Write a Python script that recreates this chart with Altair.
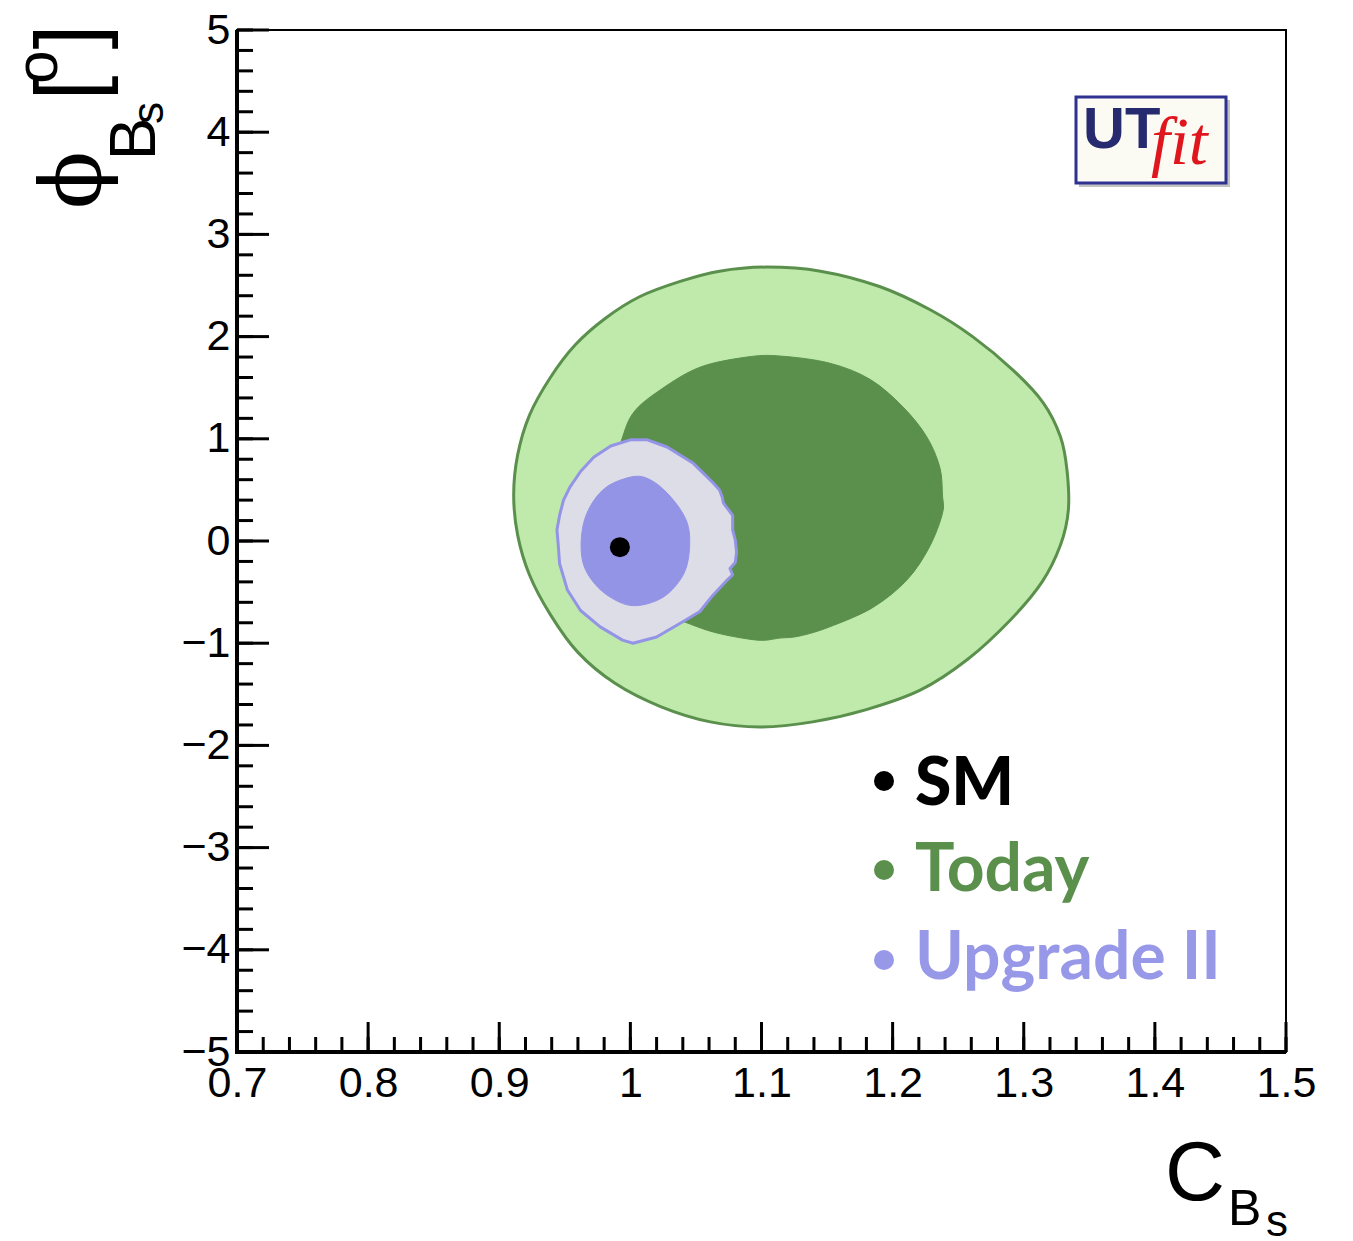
import altair as alt
import pandas as pd
import numpy as np

# ---- probability regions in the (C_Bs, phi_Bs [deg]) plane ----
# Today: 95% region
today95_c = [1.104, 1.145, 1.190, 1.229, 1.261, 1.292, 1.315, 1.328, 1.333, 1.334,
             1.328, 1.314, 1.290, 1.257, 1.221, 1.180, 1.139, 1.099, 1.061, 1.023,
             0.988, 0.960, 0.939, 0.923, 0.914, 0.911, 0.914, 0.923, 0.939, 0.958,
             0.981, 1.007, 1.038, 1.068]
today95_phi = [2.68, 2.64, 2.49, 2.26, 2.00, 1.67, 1.35, 1.02, 0.69, 0.30,
               -0.04, -0.40, -0.77, -1.16, -1.46, -1.65, -1.77, -1.82, -1.77, -1.62,
               -1.39, -1.09, -0.72, -0.33, 0.06, 0.45, 0.84, 1.23, 1.60, 1.92,
               2.18, 2.39, 2.54, 2.64]

# Today: 68% region
today68_c = [1.114, 1.152, 1.183, 1.208, 1.226, 1.236, 1.238, 1.238, 1.228, 1.211,
             1.185, 1.152, 1.129, 1.114, 1.097, 1.066, 1.043, 1.023, 1.001, 0.986,
             0.981, 0.983, 0.992, 1.002, 1.023, 1.053, 1.089]
today68_phi = [1.81, 1.74, 1.58, 1.31, 1.02, 0.72, 0.45, 0.27, -0.06, -0.38,
               -0.65, -0.84, -0.93, -0.95, -0.97, -0.90, -0.80, -0.69, -0.53, -0.23,
               0.16, 0.60, 0.94, 1.25, 1.48, 1.70, 1.80]

# Upgrade II: 95% region
upg95_c = [1.000, 1.013, 1.028, 1.048, 1.063, 1.068, 1.070, 1.071, 1.074, 1.078,
           1.078, 1.080, 1.081, 1.080, 1.076, 1.078, 1.074, 1.063, 1.053, 1.040,
           1.020, 1.002, 0.994, 0.977, 0.962, 0.952, 0.946, 0.945, 0.944, 0.946,
           0.949, 0.954, 0.962, 0.972, 0.985]
upg95_phi = [0.99, 0.99, 0.92, 0.76, 0.57, 0.50, 0.43, 0.37, 0.32, 0.25,
             0.11, 0.01, -0.11, -0.21, -0.27, -0.33, -0.38, -0.53, -0.69, -0.79,
             -0.94, -1.00, -0.97, -0.84, -0.68, -0.48, -0.22, -0.04, 0.11, 0.25,
             0.40, 0.53, 0.68, 0.82, 0.93]

# Upgrade II: 68% region
upg68_c = [1.002, 1.015, 1.028, 1.040, 1.045, 1.044, 1.038, 1.025, 1.007, 0.992,
           0.975, 0.964, 0.963, 0.969, 0.982]
upg68_phi = [0.63, 0.60, 0.47, 0.27, 0.08, -0.19, -0.38, -0.55, -0.63, -0.60,
             -0.45, -0.22, 0.08, 0.33, 0.53]

# Standard Model point
sm_c = [0.992]
sm_phi = [-0.06]

# axis ticks
x_major = [0.7, 0.8, 0.9, 1.0, 1.1, 1.2, 1.3, 1.4, 1.5]
y_major = [-5, -4, -3, -2, -1, 0, 1, 2, 3, 4, 5]
x_minor = [round(v, 2) for v in np.arange(0.70, 1.5001, 0.02)]
y_minor = [round(v, 1) for v in np.arange(-5.0, 5.001, 0.2)]

legend_labels = ["SM", "Today", "Upgrade II"]

# ---- layout ----
W, H = 1049, 1022          # plot area
LEFT, TOP = 237, 30        # plot origin on the page
PAGE_W, PAGE_H = 1353, 1241

LIGHT_GREEN = "#bfeaac"
DARK_GREEN = "#5a8f4c"
LIGHT_PURPLE = "#dddde8"
PURPLE = "#9494e6"
AXIS_FONT = "Liberation Sans"

xscale = alt.Scale(domain=[0.7, 1.5], nice=False, zero=False)
yscale = alt.Scale(domain=[-5, 5], nice=False, zero=False)
xaxis = alt.Axis(values=x_major, format="~g", title="", grid=False, ticks=False,
                 tickSize=0, domain=False, labelFontSize=43, labelFont=AXIS_FONT,
                 labelColor="black", labelPadding=10, labelOverlap=False,
                 labelFlush=False)
yaxis = alt.Axis(values=y_major, format="~g", title="", grid=False, ticks=False,
                 tickSize=0, domain=False, labelFontSize=43, labelFont=AXIS_FONT,
                 labelColor="black", labelPadding=7, labelOverlap=False,
                 labelFlush=False)
X = alt.X("c:Q", scale=xscale, axis=xaxis)
Y = alt.Y("phi:Q", scale=yscale, axis=yaxis)


def region(c, phi, fill, stroke, width, interp):
    df = pd.DataFrame({"c": c, "phi": phi, "i": range(len(c))})
    return alt.Chart(df).mark_line(
        fill=fill, stroke=stroke, strokeWidth=width, interpolate=interp,
        strokeJoin="round"
    ).encode(x=X, y=Y, order="i:Q")


def px(x, y):
    """page pixel position -> plot-relative value encodings"""
    return dict(x=alt.value(x - LEFT), y=alt.value(y - TOP))


one = pd.DataFrame({"k": [0]})

layers = [
    region(today95_c, today95_phi, LIGHT_GREEN, DARK_GREEN, 3, "cardinal-closed"),
    region(today68_c, today68_phi, DARK_GREEN, DARK_GREEN, 1, "cardinal-closed"),
    region(upg95_c, upg95_phi, LIGHT_PURPLE, PURPLE, 3, "linear-closed"),
    region(upg68_c, upg68_phi, PURPLE, PURPLE, 1, "cardinal-closed"),
    alt.Chart(pd.DataFrame({"c": sm_c, "phi": sm_phi})).mark_point(
        filled=True, shape="circle", size=400, color="black", opacity=1
    ).encode(x=X, y=Y),
]

# ticks pointing into the plot
layers += [
    alt.Chart(pd.DataFrame({"c": x_minor})).mark_rule(color="black", strokeWidth=3)
    .encode(x=X, y=alt.value(H), y2=alt.value(H - 15)),
    alt.Chart(pd.DataFrame({"c": x_major})).mark_rule(color="black", strokeWidth=3)
    .encode(x=X, y=alt.value(H), y2=alt.value(H - 30)),
    alt.Chart(pd.DataFrame({"phi": y_minor})).mark_rule(color="black", strokeWidth=3)
    .encode(y=Y, x=alt.value(0), x2=alt.value(16)),
    alt.Chart(pd.DataFrame({"phi": y_major})).mark_rule(color="black", strokeWidth=3)
    .encode(y=Y, x=alt.value(0), x2=alt.value(32)),
    # thick left and bottom axis lines
    alt.Chart(one).mark_rule(color="black", strokeWidth=4)
    .encode(x=alt.value(0), y=alt.value(0), y2=alt.value(H + 2)),
    alt.Chart(one).mark_rule(color="black", strokeWidth=4)
    .encode(y=alt.value(H), x=alt.value(-2), x2=alt.value(W)),
]

# legend
legend_colors = ["black", DARK_GREEN, "#9898e8"]
legend_weights = [900, "bold", "bold"]
legend_dot_y = [781, 870, 960]
legend_base_y = [805, 891, 979]
for lab, col, wt, dy, by in zip(legend_labels, legend_colors, legend_weights,
                                legend_dot_y, legend_base_y):
    layers.append(
        alt.Chart(one).mark_point(filled=True, shape="circle", size=400,
                                  color=col, opacity=1).encode(**px(884, dy)))
    layers.append(
        alt.Chart(one).mark_text(text=lab, font="Lato", fontSize=66, fontWeight=wt,
                                 color=col, align="left", baseline="alphabetic")
        .encode(**px(915, by)))

# UTfit logo
layers += [
    alt.Chart(one).mark_rect(fill="#9a9a9a", opacity=0.6)
    .encode(x=alt.value(1079 - LEFT), x2=alt.value(1230 - LEFT),
            y=alt.value(100 - TOP), y2=alt.value(187 - TOP)),
    alt.Chart(one).mark_rect(fill="#fbfaf3", stroke="#2e3190", strokeWidth=3)
    .encode(x=alt.value(1076 - LEFT), x2=alt.value(1226 - LEFT),
            y=alt.value(97 - TOP), y2=alt.value(183 - TOP)),
    alt.Chart(one).mark_text(text="UT", font=AXIS_FONT, fontSize=58, fontWeight="bold",
                             color="#262a6e", align="left", baseline="alphabetic")
    .encode(**px(1083, 148)),
    alt.Chart(one).mark_text(text="fit", font="Liberation Serif", fontSize=68,
                             fontStyle="italic", color="#e0161e", align="left",
                             baseline="alphabetic")
    .encode(**px(1151, 164)),
]

# x axis title: C_{B_s}
layers += [
    alt.Chart(one).mark_text(text="C", font=AXIS_FONT, fontSize=83, color="black",
                             align="left", baseline="alphabetic").encode(**px(1165, 1200)),
    alt.Chart(one).mark_text(text="B", font=AXIS_FONT, fontSize=50, color="black",
                             align="left", baseline="alphabetic").encode(**px(1228, 1225)),
    alt.Chart(one).mark_text(text="s", font=AXIS_FONT, fontSize=44, color="black",
                             align="left", baseline="alphabetic").encode(**px(1266, 1236)),
]

# y axis title: phi_{B_s} [o], rotated
ytitle = [
    ("\u03d5", "DejaVu Serif", 85, 100, 180),
    ("B", AXIS_FONT, 64, 155, 139),
    ("s", AXIS_FONT, 44, 163, 113),
    ("[", AXIS_FONT, 90, 99, 88),
    ("o", AXIS_FONT, 60, 57, 67),
    ("]", AXIS_FONT, 90, 99, 37),
]
for t, f, s, bx, cy in ytitle:
    layers.append(
        alt.Chart(one).mark_text(text=t, font=f, fontSize=s, color="black", angle=270,
                                 align="center", baseline="alphabetic")
        .encode(**px(bx, cy)))

chart = alt.layer(*layers).properties(
    width=W, height=H,
    autosize=alt.AutoSizeParams(type="none"),
    padding={"left": LEFT, "top": TOP, "right": PAGE_W - LEFT - W,
             "bottom": PAGE_H - TOP - H},
    background="white",
).configure_view(stroke="black", strokeWidth=2)

chart.save("out.html", embed_options={"renderer": "svg", "actions": False})
